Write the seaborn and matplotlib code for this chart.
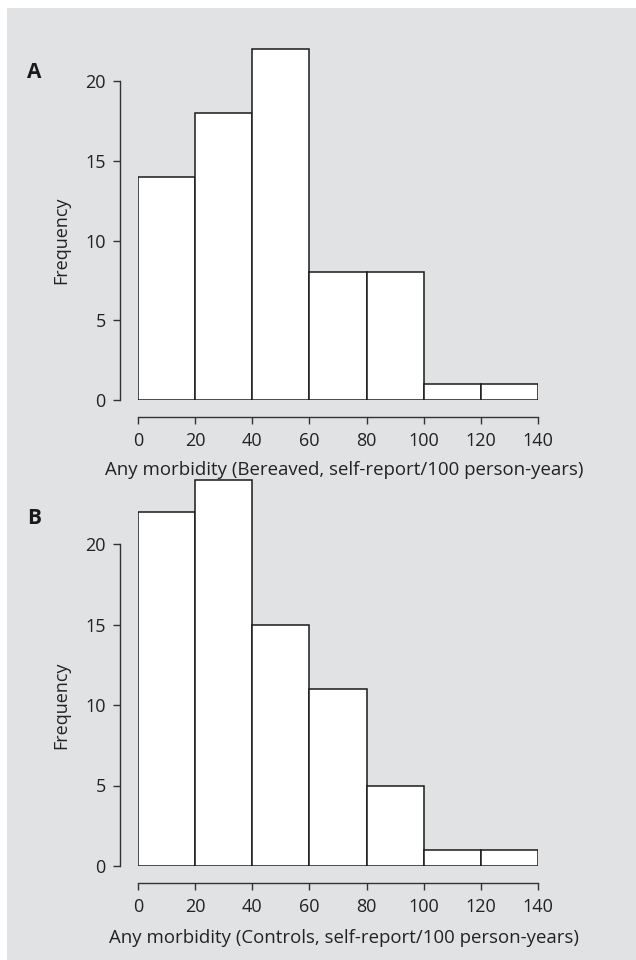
import matplotlib
matplotlib.use("Agg")
import matplotlib.pyplot as plt
from matplotlib.patches import Rectangle
import seaborn as sns
import numpy as np
import pandas as pd

# Data
bin_edges = [0, 20, 40, 60, 80, 100, 120, 140]
bereaved_counts = [14, 18, 22, 8, 8, 1, 1]
control_counts = [22, 24, 15, 11, 5, 1, 1]
y_ticks = [0, 5, 10, 15, 20]
x_ticks = [0, 20, 40, 60, 80, 100, 120, 140]
xlabel_a = "Any morbidity (Bereaved, self-report/100 person-years)"
xlabel_b = "Any morbidity (Controls, self-report/100 person-years)"

sns.set_style("white")
plt.rcParams['font.family'] = ['Open Sans', 'DejaVu Sans']

W, H = 636, 960
fig = plt.figure(figsize=(W / 100, H / 100), dpi=100)
fig.patch.set_facecolor("white")
bg = "#e1e2e4"
fig.patches.append(Rectangle((7 / W, 0), 1 - 7 / W, 1 - 8 / H, transform=fig.transFigure,
                             facecolor=bg, edgecolor="none", zorder=-10))

tick_col = "#333333"
fs = 13


def panel(counts, bottom_px, px_per_unit, ylim_top, xlabel, label, label_y, xlabel_y):
    left_px, right_px = 138, 538
    height_px = ylim_top * px_per_unit
    ax = fig.add_axes([left_px / W, 1 - bottom_px / H, (right_px - left_px) / W, height_px / H])
    ax.set_facecolor("none")
    centers = [(bin_edges[i] + bin_edges[i + 1]) / 2 for i in range(len(counts))]
    df = pd.DataFrame({"x": centers, "w": counts})
    sns.histplot(data=df, x="x", weights="w", bins=bin_edges, ax=ax,
                 color="white", alpha=1, edgecolor="#1a1a1a", linewidth=1.1)
    ax.set_xlim(0, 140)
    ax.set_ylim(0, ylim_top)
    ax.set_xticks(x_ticks)
    ax.set_yticks(y_ticks)
    for s in ["top", "right"]:
        ax.spines[s].set_visible(False)
    ax.spines["left"].set_position(("outward", 13))
    ax.spines["bottom"].set_position(("outward", 12.3))
    ax.spines["left"].set_bounds(0, 20)
    ax.spines["bottom"].set_bounds(0, 140)
    for s in ["left", "bottom"]:
        ax.spines[s].set_color(tick_col)
        ax.spines[s].set_linewidth(1.0)
    ax.tick_params(axis="both", which="major", direction="out", length=4.8, width=1.0,
                   color=tick_col, labelsize=fs, labelcolor="#222222", left=True, bottom=True)
    ax.tick_params(axis="y", pad=5.5)
    ax.tick_params(axis="x", pad=6)
    ax.set_xlabel("")
    ax.set_ylabel("")
    ymid_px = bottom_px - 10 * px_per_unit
    fig.text(61 / W, 1 - ymid_px / H, "Frequency", rotation=90, ha="center", va="center",
             fontsize=fs, color="#222222")
    fig.text(344 / W, 1 - xlabel_y / H, xlabel, ha="center", va="center",
             fontsize=13.4, color="#222222")
    fig.text(34 / W, 1 - label_y / H, label, ha="center", va="center",
             fontsize=15, fontweight="bold", color="#1a1a1a")
    return ax


panel(bereaved_counts, 400, 15.95, 23, xlabel_a, "A", 72, 470)
panel(control_counts, 866, 16.1, 25, xlabel_b, "B", 519, 938)

fig.savefig("out.png", dpi=100, facecolor=fig.get_facecolor())
